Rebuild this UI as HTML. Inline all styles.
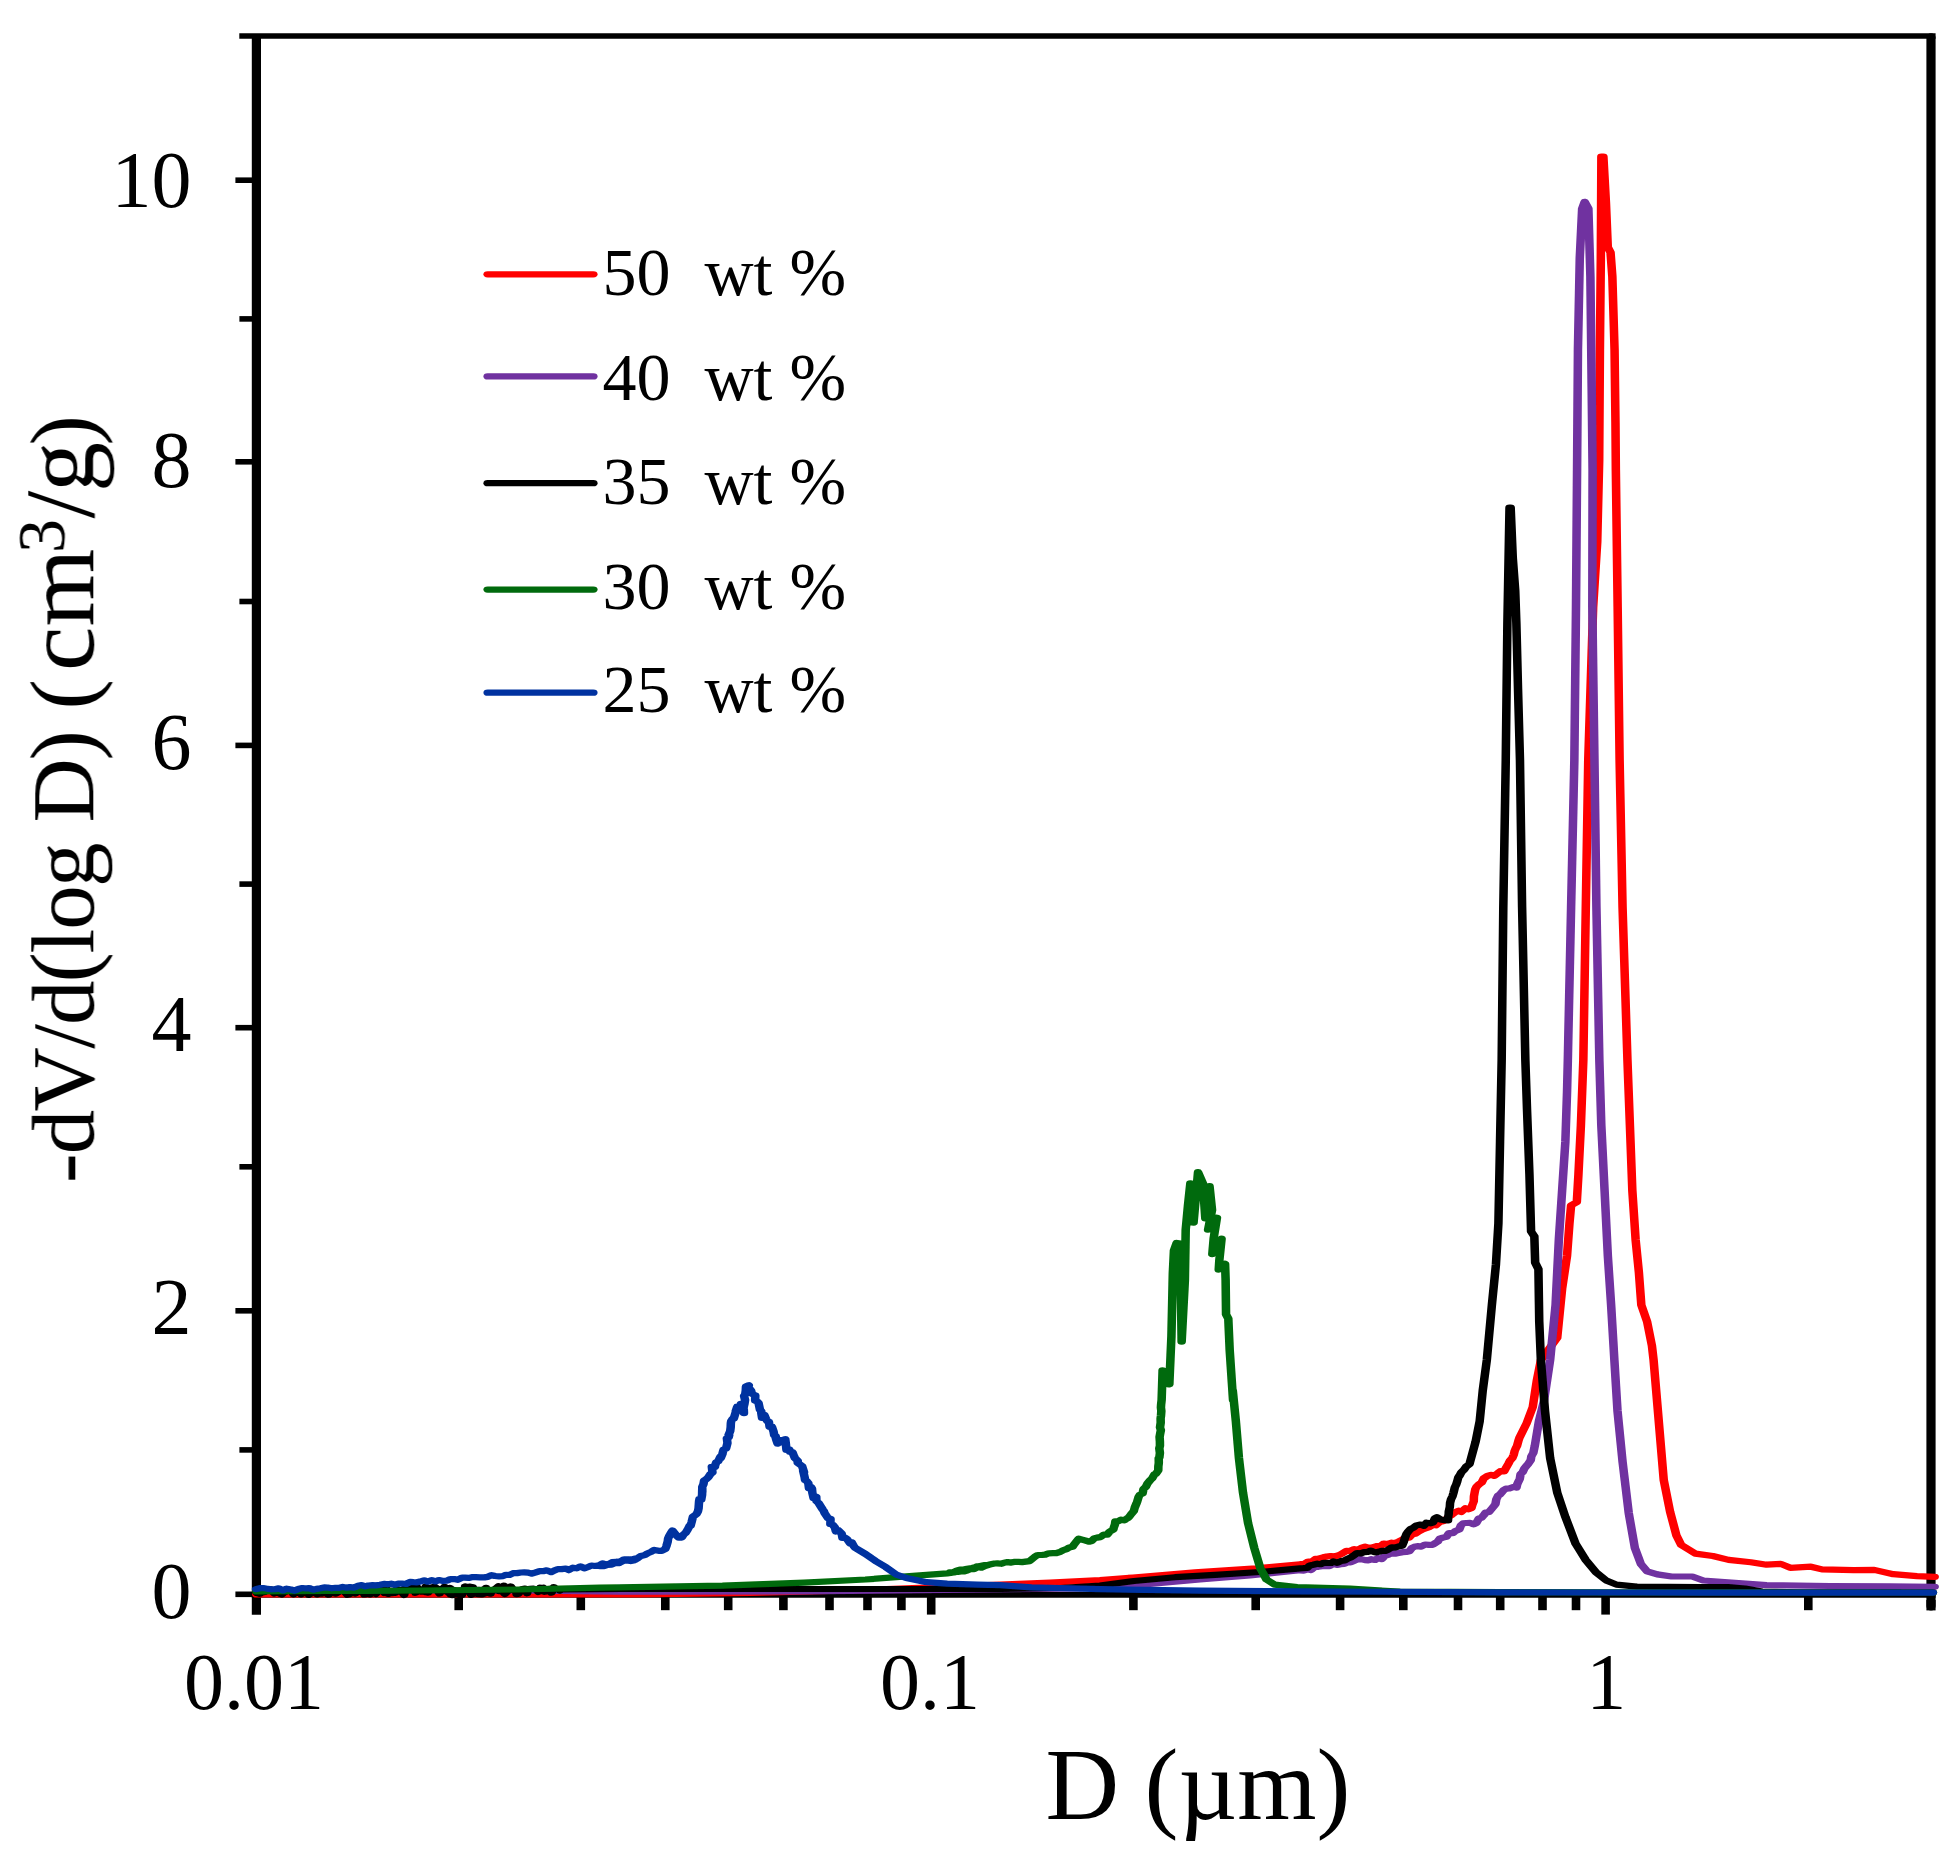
<!DOCTYPE html>
<html lang="en">
<head>
<meta charset="utf-8">
<title>Pore size distribution</title>
<style>
html,body{margin:0;padding:0;background:#fff;}
svg{display:block;}
text{font-family:"Liberation Serif","Times New Roman",serif;fill:#000;}
.ax{stroke:#000;fill:none;}
.s{fill:none;stroke-width:6.2;stroke-linecap:round;stroke-linejoin:round;}
</style>
</head>
<body>
<svg width="1959" height="1857" viewBox="0 0 1959 1857">
<rect width="1959" height="1857" fill="#fff"/>
<defs><filter id="soft" x="0" y="0" width="100%" height="100%" filterUnits="userSpaceOnUse"><feGaussianBlur stdDeviation="0.7"/></filter></defs>
<g filter="url(#soft)">
<g class="ax">
<line x1="239.3" y1="36.0" x2="1935.6" y2="36.0" stroke-width="5.6"/>
<line x1="251.8" y1="1594.9" x2="1935.6" y2="1594.9" stroke-width="5.6"/>
<line x1="256.4" y1="36.0" x2="256.4" y2="1614.8" stroke-width="9.2"/>
<line x1="1931.0" y1="37.8" x2="1931.0" y2="1606" stroke-width="9.2" stroke-linecap="round"/>
<line x1="1931.0" y1="1600" x2="1931.0" y2="1610.4" stroke-width="9.2"/>
<line x1="235.4" y1="180.2" x2="256.4" y2="180.2" stroke-width="5.6"/>
<line x1="239.4" y1="318.9" x2="256.4" y2="318.9" stroke-width="5.6"/>
<line x1="235.4" y1="461.8" x2="256.4" y2="461.8" stroke-width="5.6"/>
<line x1="239.4" y1="601.5" x2="256.4" y2="601.5" stroke-width="5.6"/>
<line x1="235.4" y1="745.4" x2="256.4" y2="745.4" stroke-width="5.6"/>
<line x1="239.4" y1="884.1" x2="256.4" y2="884.1" stroke-width="5.6"/>
<line x1="235.4" y1="1027.7" x2="256.4" y2="1027.7" stroke-width="5.6"/>
<line x1="239.4" y1="1166.8" x2="256.4" y2="1166.8" stroke-width="5.6"/>
<line x1="235.4" y1="1310.8" x2="256.4" y2="1310.8" stroke-width="5.6"/>
<line x1="239.4" y1="1449.9" x2="256.4" y2="1449.9" stroke-width="5.6"/>
<line x1="235.4" y1="1594.3" x2="256.4" y2="1594.3" stroke-width="5.6"/>
<line x1="458.7" y1="1594.9" x2="458.7" y2="1610.2" stroke-width="8.6"/>
<line x1="580.8" y1="1594.9" x2="580.8" y2="1610.2" stroke-width="8.6"/>
<line x1="665.3" y1="1594.9" x2="665.3" y2="1610.2" stroke-width="8.6"/>
<line x1="728.2" y1="1594.9" x2="728.2" y2="1610.2" stroke-width="8.6"/>
<line x1="783.4" y1="1594.9" x2="783.4" y2="1610.2" stroke-width="8.6"/>
<line x1="829.5" y1="1594.9" x2="829.5" y2="1610.2" stroke-width="8.6"/>
<line x1="867.5" y1="1594.9" x2="867.5" y2="1610.2" stroke-width="8.6"/>
<line x1="901.4" y1="1594.9" x2="901.4" y2="1610.2" stroke-width="8.6"/>
<line x1="931.2" y1="1594.9" x2="931.2" y2="1614.6" stroke-width="8.6"/>
<line x1="1133.4" y1="1594.9" x2="1133.4" y2="1610.2" stroke-width="8.6"/>
<line x1="1255.7" y1="1594.9" x2="1255.7" y2="1610.2" stroke-width="8.6"/>
<line x1="1340.1" y1="1594.9" x2="1340.1" y2="1610.2" stroke-width="8.6"/>
<line x1="1403.3" y1="1594.9" x2="1403.3" y2="1610.2" stroke-width="8.6"/>
<line x1="1458.0" y1="1594.9" x2="1458.0" y2="1610.2" stroke-width="8.6"/>
<line x1="1500.2" y1="1594.9" x2="1500.2" y2="1610.2" stroke-width="8.6"/>
<line x1="1542.5" y1="1594.9" x2="1542.5" y2="1610.2" stroke-width="8.6"/>
<line x1="1576.0" y1="1594.9" x2="1576.0" y2="1610.2" stroke-width="8.6"/>
<line x1="1605.6" y1="1594.9" x2="1605.6" y2="1614.6" stroke-width="8.6"/>
<line x1="1808.3" y1="1594.9" x2="1808.3" y2="1610.2" stroke-width="8.6"/>
</g>
<g transform="scale(1.38 1)">
<path class="s" stroke="#ff0000" d="M185.80 1594.4L463.77 1594.3L543.48 1593.0L615.94 1590.5L652.17 1588.5L688.41 1586.5L724.64 1584.5L760.87 1582.6L797.10 1580.2L821.01 1577.5L865.94 1572.4L910.14 1568.3L942.03 1564.2L944.82 1564.1L947.98 1561.5L950.58 1561.7L953.27 1558.9L955.49 1558.7L958.89 1557.3L961.45 1556.5L964.22 1556.0L967.30 1556.3L969.69 1555.5L972.17 1553.9L975.65 1550.9L978.27 1551.1L981.26 1549.0L983.68 1550.0L986.42 1547.9L989.31 1546.6L991.60 1547.9L994.72 1547.4L997.20 1546.2L1000.56 1545.9L1002.64 1543.6L1005.45 1544.1L1008.61 1542.7L1010.95 1543.1L1013.43 1541.5L1016.01 1539.7L1018.80 1537.2L1020.99 1537.7L1023.43 1534.2L1025.67 1533.7L1028.07 1531.5L1030.81 1529.5L1033.32 1528.3L1035.42 1527.2L1038.57 1524.8L1040.52 1525.3L1043.20 1522.0L1045.60 1521.3L1047.39 1519.8L1049.91 1516.6L1052.06 1514.8L1054.48 1512.1L1057.05 1510.7L1058.84 1511.9L1061.94 1508.2L1064.00 1509.4L1066.32 1508.0L1066.85 1505.2L1067.95 1501.2L1068.07 1496.4L1068.57 1492.7L1069.06 1489.3L1070.02 1486.6L1072.04 1484.0L1073.73 1482.4L1075.19 1478.4L1077.93 1475.9L1080.50 1474.8L1082.83 1475.9L1085.19 1473.4L1087.15 1471.2L1089.99 1471.3L1091.59 1467.2L1092.98 1463.9L1094.14 1460.7L1095.91 1458.0L1096.97 1454.6L1097.54 1451.2L1098.54 1447.8L1099.31 1445.8L1100.44 1440.2L1101.09 1437.6L1106.27 1423.3L1110.70 1407.0L1113.66 1380.4L1116.62 1360.0L1128.42 1337.7L1131.97 1288.7L1135.52 1256.0L1137.29 1223.3L1138.48 1205.4L1142.62 1202.1L1143.80 1174.3L1145.58 1125.3L1147.35 1060.0L1149.13 907.0L1150.91 760.0L1154.46 607.0L1157.42 541.7L1158.84 460.0L1159.35 349.7L1160.02 258.1L1160.42 156.7L1161.87 156.7L1163.73 203.2L1165.06 247.2L1167.05 252.3L1168.37 276.5L1169.97 349.7L1170.63 422.9L1170.90 470.0L1172.21 607.0L1173.63 760.1L1175.76 907.0L1179.31 1060.1L1181.09 1125.3L1182.86 1190.7L1185.23 1239.7L1187.60 1272.4L1189.37 1305.0L1193.52 1321.4L1197.07 1345.9L1198.25 1360.1L1205.61 1480.0L1210.19 1511.6L1214.78 1535.4L1218.22 1544.9L1228.54 1553.6L1241.15 1556.0L1252.62 1559.9L1268.67 1562.3L1280.14 1564.7L1290.46 1563.9L1297.34 1567.8L1312.25 1566.7L1320.28 1569.4L1343.21 1570.2L1358.12 1569.9L1371.88 1574.2L1389.08 1576.2L1401.92 1576.8"/>
<path class="s" stroke="#7030a0" d="M185.80 1590.5L376.81 1590.5L434.78 1591.5L463.77 1591.7L579.71 1591.5L652.17 1590.5L782.61 1588.5L833.33 1584.0L869.57 1579.5L905.80 1575.5L942.03 1570.3L944.87 1570.6L947.43 1569.2L950.01 1570.1L952.61 1567.0L955.27 1566.8L958.02 1566.3L960.52 1565.9L963.39 1566.1L965.98 1564.0L968.67 1564.9L971.62 1564.2L973.99 1564.0L976.82 1562.2L978.67 1562.3L981.71 1560.5L984.09 1559.3L986.42 1559.1L989.24 1560.1L991.60 1560.4L993.58 1559.2L996.48 1560.0L998.65 1558.0L1001.21 1559.1L1003.54 1555.9L1005.65 1555.0L1008.49 1552.9L1010.94 1553.7L1013.31 1553.1L1016.31 1552.2L1018.97 1551.9L1021.29 1551.3L1023.25 1547.8L1024.89 1546.8L1027.14 1546.1L1029.88 1546.6L1032.67 1544.5L1035.35 1544.9L1038.20 1544.8L1040.26 1542.9L1041.73 1541.7L1043.36 1538.6L1045.60 1537.6L1048.13 1536.8L1049.99 1533.1L1052.71 1533.2L1054.65 1530.9L1057.44 1529.5L1058.72 1525.2L1060.40 1523.3L1062.58 1523.0L1065.30 1522.9L1067.80 1524.4L1069.75 1523.2L1071.65 1518.5L1073.47 1517.9L1075.19 1515.2L1076.62 1512.5L1079.03 1511.9L1081.12 1508.5L1082.59 1506.0L1083.66 1504.0L1084.31 1499.2L1085.55 1495.8L1087.14 1494.2L1089.63 1490.2L1091.47 1488.6L1093.67 1488.4L1096.62 1486.9L1098.87 1487.6L1099.45 1484.3L1100.14 1482.1L1101.28 1479.0L1101.83 1474.3L1103.43 1472.0L1104.60 1468.6L1106.20 1465.7L1107.36 1464.0L1109.22 1460.1L1109.66 1456.4L1111.08 1452.9L1111.76 1448.6L1112.18 1445.8L1115.14 1421.3L1118.84 1400.8L1123.28 1360.0L1127.23 1305.0L1129.60 1239.7L1131.97 1190.7L1134.33 1141.7L1135.52 1092.7L1136.11 1060.0L1138.48 907.0L1140.84 760.0L1142.03 607.0L1142.86 460.0L1143.44 349.7L1144.76 258.1L1146.49 208.7L1148.34 201.8L1151.00 208.7L1152.46 276.5L1153.38 386.3L1154.05 470.0L1153.86 607.0L1155.40 760.1L1156.82 907.0L1158.95 1060.1L1160.37 1125.3L1162.74 1190.7L1165.11 1256.0L1167.48 1305.0L1169.84 1360.1L1172.11 1411.0L1175.81 1462.1L1180.25 1513.1L1184.68 1547.9L1189.12 1564.2L1193.56 1571.3L1200.96 1574.4L1211.34 1576.5L1226.25 1576.5L1234.27 1580.5L1257.21 1582.9L1280.14 1585.2L1326.01 1586.0L1401.92 1586.8"/>
<path class="s" stroke="#000000" d="M185.80 1592.0L186.23 1593.1L188.06 1591.9L188.35 1593.8L189.86 1592.0L191.54 1592.1L192.17 1590.4L192.45 1591.2L194.62 1589.4L196.14 1590.4L196.32 1589.2L198.80 1593.4L199.74 1592.7L199.43 1590.9L201.39 1589.6L203.34 1591.2L203.11 1593.8L204.21 1594.5L205.93 1592.2L206.90 1591.8L207.78 1589.1L210.12 1590.3L211.12 1590.2L212.60 1594.3L213.39 1593.5L214.24 1593.3L214.59 1591.8L216.97 1590.1L218.30 1594.2L218.56 1591.1L219.78 1591.2L221.88 1591.2L221.35 1589.4L223.71 1594.8L224.48 1591.8L225.73 1593.3L226.31 1592.5L228.05 1592.6L228.55 1589.9L229.99 1594.4L231.15 1592.4L232.23 1589.4L232.97 1593.7L235.36 1591.1L236.35 1592.9L237.88 1594.6L238.18 1594.7L240.30 1592.3L241.31 1591.7L241.59 1590.3L243.61 1589.8L243.36 1593.6L245.74 1591.7L247.01 1589.1L247.15 1590.5L248.59 1589.8L249.13 1590.8L251.73 1594.7L252.62 1591.6L252.91 1594.5L254.54 1593.1L254.83 1590.0L257.40 1593.5L258.63 1592.3L258.99 1592.2L260.88 1590.6L261.49 1590.4L263.05 1588.8L264.06 1594.4L264.06 1592.3L266.29 1593.8L267.34 1590.2L268.19 1594.4L270.21 1589.5L269.96 1589.2L270.99 1591.4L272.34 1593.9L274.39 1589.4L275.35 1590.6L276.42 1590.0L277.01 1589.8L278.53 1592.9L279.98 1588.9L281.42 1593.9L282.68 1593.4L282.50 1591.4L283.75 1593.2L285.10 1592.9L286.39 1592.8L287.65 1588.9L289.13 1591.6L289.66 1590.0L290.58 1590.6L292.92 1594.9L293.98 1586.6L294.30 1589.9L295.29 1587.0L295.50 1590.1L296.74 1590.2L297.35 1586.6L300.41 1589.8L301.01 1592.8L301.74 1586.3L304.08 1591.4L304.89 1591.7L306.91 1589.2L307.48 1589.3L308.11 1592.1L308.55 1586.6L310.15 1592.6L311.63 1590.0L312.93 1587.5L312.80 1588.9L315.72 1587.6L314.93 1586.7L315.87 1588.4L318.51 1593.6L319.00 1589.3L320.03 1588.7L322.55 1591.0L322.26 1586.8L324.88 1592.5L326.16 1588.0L326.53 1594.5L327.81 1594.8L327.79 1595.1L328.63 1589.7L329.70 1593.5L332.70 1595.1L334.18 1594.8L334.60 1595.2L336.34 1589.0L338.12 1589.3L337.10 1586.4L339.02 1587.6L341.47 1594.8L340.63 1586.7L342.66 1587.3L343.85 1593.5L344.20 1589.7L347.16 1589.9L346.76 1594.2L349.23 1594.3L350.03 1589.6L351.20 1593.6L352.21 1587.9L352.41 1589.6L354.89 1591.0L355.43 1593.6L355.35 1591.7L357.13 1591.0L359.69 1588.0L361.17 1586.4L361.24 1590.8L361.48 1591.0L363.29 1589.9L365.14 1585.7L365.35 1593.2L365.85 1593.9L367.17 1592.2L368.24 1589.9L370.09 1586.4L372.02 1590.2L373.15 1590.8L373.93 1590.7L374.37 1594.2L376.09 1590.4L375.66 1593.8L377.54 1590.0L378.78 1588.9L380.53 1588.5L381.00 1588.9L381.95 1593.3L382.47 1589.5L383.86 1588.8L386.58 1588.7L386.93 1589.3L388.33 1589.5L388.34 1589.4L389.97 1591.9L391.43 1587.7L392.80 1588.4L393.62 1587.8L394.57 1591.8L395.93 1591.5L397.56 1590.3L398.48 1589.0L399.58 1591.6L399.67 1592.7L401.36 1587.1L402.07 1588.5L403.05 1588.9L405.07 1589.6L405.62 1590.6L406.52 1589.5L463.77 1588.8L579.71 1589.0L724.64 1589.0L768.12 1588.0L797.10 1585.5L821.74 1581.0L851.45 1577.2L880.43 1574.8L913.04 1572.0L942.03 1568.3L944.27 1568.2L947.13 1568.0L949.14 1565.4L951.57 1564.7L954.58 1563.7L956.83 1564.2L959.32 1562.8L961.57 1562.9L964.54 1563.0L966.24 1561.4L968.83 1562.8L971.62 1561.1L974.28 1560.5L976.66 1558.6L979.14 1557.2L980.86 1555.7L983.46 1553.0L985.98 1553.5L988.59 1552.1L990.94 1551.9L993.43 1550.6L996.44 1552.5L999.13 1551.8L1001.21 1550.9L1003.73 1550.9L1005.81 1549.8L1008.56 1547.3L1010.80 1547.6L1013.31 1546.5L1016.01 1545.8L1017.22 1541.9L1017.89 1538.6L1019.09 1534.2L1020.45 1531.5L1022.14 1529.0L1024.00 1527.9L1026.37 1525.4L1029.38 1524.5L1031.75 1525.8L1033.71 1522.7L1036.72 1523.3L1038.49 1522.4L1039.81 1518.2L1041.16 1517.2L1043.80 1519.4L1046.95 1520.2L1049.30 1520.3L1049.32 1517.9L1049.78 1514.0L1049.85 1511.4L1050.58 1507.1L1050.78 1502.9L1051.40 1499.6L1052.63 1495.9L1053.31 1492.6L1054.18 1487.6L1055.22 1484.6L1055.83 1482.1L1056.71 1477.5L1057.59 1475.8L1058.92 1472.3L1060.94 1469.7L1062.44 1466.7L1064.84 1464.1L1069.28 1441.7L1072.23 1421.3L1074.45 1390.6L1077.41 1360.0L1081.07 1305.0L1084.03 1264.2L1085.80 1223.3L1086.99 1141.7L1088.17 1060.0L1089.35 907.0L1091.13 760.0L1092.31 623.3L1093.85 507.7L1094.68 507.7L1096.22 558.0L1097.99 590.7L1098.82 623.3L1100.01 688.7L1101.43 760.1L1102.97 907.0L1105.33 1060.1L1106.52 1109.0L1108.29 1174.3L1109.48 1231.5L1111.84 1236.4L1112.44 1262.6L1114.80 1269.1L1115.39 1321.4L1116.58 1360.1L1119.58 1411.0L1123.28 1458.0L1128.46 1492.7L1134.38 1517.2L1141.78 1543.8L1149.17 1560.1L1156.57 1572.4L1163.97 1580.5L1171.37 1584.6L1186.16 1586.6L1231.88 1587.1L1252.17 1587.2L1264.49 1588.5L1276.81 1591.5L1304.35 1592.3L1400.65 1592.5"/>
<path class="s" stroke="#066a0a" d="M185.80 1591.5L239.13 1591.0L304.35 1590.5L376.81 1589.5L434.78 1587.7L523.56 1585.6L582.74 1582.6L627.13 1579.5L656.72 1576.4L686.32 1573.4L688.76 1573.0L691.44 1572.3L693.72 1572.0L696.03 1571.4L698.71 1571.3L701.11 1570.3L703.39 1569.1L705.85 1569.1L708.60 1567.0L711.20 1567.7L713.51 1566.2L715.91 1565.2L713.00 1565.1L710.42 1565.9L707.51 1566.9L704.69 1568.0L702.13 1569.3L699.42 1569.7L696.66 1570.5L693.89 1570.6L691.39 1572.4L688.41 1572.4L691.03 1572.0L693.25 1570.6L695.71 1569.6L698.39 1569.5L700.90 1568.8L703.20 1568.3L705.88 1568.1L707.90 1566.4L710.79 1566.2L713.29 1565.4L715.33 1565.1L718.00 1564.2L720.59 1563.5L722.74 1563.4L725.61 1563.8L727.68 1562.7L730.14 1562.1L732.79 1562.6L735.60 1561.8L738.15 1561.9L740.64 1562.1L743.28 1561.6L746.11 1561.1L747.91 1559.0L749.92 1556.7L752.03 1555.0L754.96 1555.0L757.36 1554.6L760.03 1553.3L763.04 1553.2L765.41 1553.2L768.30 1551.9L770.39 1550.3L772.87 1549.1L774.87 1547.4L777.18 1546.8L778.47 1544.2L780.02 1541.5L781.62 1538.7L784.03 1539.6L786.77 1540.7L789.02 1541.7L791.03 1541.0L792.82 1538.4L794.94 1537.6L797.38 1537.1L800.02 1534.5L802.34 1534.6L804.10 1531.6L806.77 1529.5L807.06 1527.7L807.94 1524.4L808.25 1521.3L810.53 1521.1L812.36 1519.6L814.60 1520.3L817.13 1518.2L818.20 1516.9L819.70 1514.1L821.57 1511.1L822.31 1507.5L823.66 1503.0L823.83 1502.6L825.13 1496.7L826.01 1494.8L827.94 1493.5L828.61 1489.1L830.45 1486.6L831.59 1483.3L833.52 1480.1L834.89 1478.4L836.55 1474.3L837.54 1474.0L839.33 1470.3L839.38 1466.4L839.71 1463.0L839.66 1458.0L840.13 1457.5L840.51 1452.9L840.08 1448.4L840.54 1445.8L840.51 1441.7L840.28 1437.0L840.64 1434.1L841.19 1430.2L840.59 1427.4L841.09 1422.6L841.03 1418.5L841.31 1415.7L841.55 1411.0L841.25 1407.6L841.39 1404.4L841.76 1400.1L842.47 1370.4L847.34 1384.4L848.86 1336.1L849.88 1273.1L850.69 1250.6L852.72 1242.9L855.15 1243.6L856.27 1341.7L858.60 1280.1L859.21 1229.6L860.84 1205.8L862.56 1183.4L864.90 1222.6L868.14 1172.2L871.70 1183.4L873.42 1218.4L876.47 1186.2L878.29 1210.0L875.45 1229.6L881.85 1217.7L879.51 1238.0L878.50 1254.1L885.19 1238.7L883.57 1260.4L883.16 1269.6L887.73 1263.9L888.14 1280.1L888.44 1314.4L890.07 1318.6L891.08 1350.1L893.52 1400.1L893.33 1390.6L895.55 1421.3L897.77 1458.0L900.73 1492.7L904.43 1523.3L908.87 1547.9L913.31 1568.3L917.74 1579.5L923.66 1584.6L939.94 1587.1L978.26 1588.7L1014.49 1591.6L1086.96 1592.2L1231.88 1592.4L1400.65 1592.5"/>
<path class="s" stroke="#0033a0" d="M185.60 1589.1L188.26 1588.2L191.30 1588.1L194.01 1588.9L196.44 1589.3L199.22 1589.2L202.04 1588.3L205.11 1590.3L207.67 1588.7L210.75 1589.5L213.54 1590.6L216.19 1589.0L219.18 1588.0L221.78 1588.5L223.93 1588.0L226.75 1589.7L229.34 1588.9L232.38 1588.3L235.00 1587.4L237.32 1587.6L240.34 1588.3L243.17 1587.8L245.58 1587.9L248.38 1586.9L251.33 1587.7L253.60 1587.1L256.50 1587.6L259.35 1585.8L262.23 1585.1L264.49 1586.4L266.98 1585.5L269.94 1585.2L272.28 1585.4L275.52 1584.8L278.29 1583.9L280.84 1584.3L283.45 1583.7L286.33 1584.7L288.75 1583.7L291.13 1583.5L294.26 1584.0L297.08 1581.9L299.53 1582.2L302.13 1582.3L304.55 1581.5L307.35 1580.3L309.96 1581.7L312.70 1580.1L315.59 1581.4L318.04 1580.1L321.09 1580.9L323.98 1580.6L326.26 1579.1L329.12 1579.1L331.70 1579.8L334.85 1577.6L336.95 1577.6L339.68 1577.9L342.64 1577.1L344.89 1577.2L347.85 1577.3L350.98 1577.4L353.34 1576.9L356.15 1575.1L358.71 1576.0L361.70 1576.4L364.37 1576.1L366.70 1574.8L369.17 1575.0L371.83 1573.2L374.63 1573.1L377.42 1572.5L379.86 1572.4L382.62 1572.7L385.26 1573.7L388.30 1572.4L391.08 1571.1L393.50 1571.2L396.27 1570.3L399.33 1572.2L401.73 1570.5L404.13 1569.1L407.02 1569.1L410.07 1568.5L412.16 1570.2L415.23 1567.7L417.90 1568.3L420.62 1566.4L423.30 1568.3L426.24 1567.0L428.48 1565.5L431.10 1566.0L434.06 1565.4L436.60 1563.4L439.65 1564.8L442.37 1563.7L445.04 1563.0L447.49 1561.7L449.75 1561.2L452.31 1559.3L454.53 1559.3L457.17 1559.8L460.16 1558.5L462.28 1558.1L459.86 1560.1L457.13 1559.3L453.82 1559.8L451.06 1560.6L448.63 1563.2L446.04 1562.9L443.15 1564.6L439.97 1565.0L437.84 1566.1L434.78 1566.2L437.19 1565.1L438.98 1564.9L441.31 1563.9L443.66 1562.1L446.68 1561.7L448.91 1562.9L451.82 1560.7L454.03 1560.4L456.98 1561.1L459.75 1560.2L461.64 1558.6L464.37 1556.0L467.20 1555.1L469.19 1553.4L471.77 1551.9L474.08 1549.9L477.31 1550.8L479.56 1550.8L482.13 1548.9L482.82 1546.5L483.86 1541.5L484.16 1538.4L485.09 1535.6L486.00 1533.3L487.31 1530.5L488.61 1532.8L490.27 1535.6L491.84 1537.7L493.97 1537.6L495.34 1534.5L496.99 1532.6L498.35 1529.5L499.89 1525.4L500.40 1525.8L501.21 1521.9L502.12 1516.7L504.70 1514.1L505.06 1513.2L505.80 1511.1L506.22 1508.3L506.25 1507.6L506.57 1501.3L506.94 1498.8L508.11 1499.9L508.76 1494.8L508.85 1489.6L508.93 1492.0L508.89 1486.9L509.73 1484.3L510.24 1480.5L511.44 1479.6L513.20 1477.3L514.68 1474.3L516.27 1472.4L515.83 1466.8L518.12 1466.9L517.70 1467.2L519.12 1462.1L520.37 1461.4L522.00 1456.7L522.20 1458.2L523.56 1453.9L523.66 1452.8L524.34 1449.6L526.13 1448.5L527.12 1443.1L526.73 1438.2L528.00 1437.6L528.42 1435.1L527.99 1434.9L529.12 1431.1L529.48 1427.4L529.61 1423.1L529.86 1421.0L530.92 1418.8L531.73 1418.5L533.24 1411.8L533.18 1411.0L534.23 1406.7L535.93 1409.1L536.88 1403.9L536.91 1407.8L537.64 1405.6L539.00 1409.8L539.09 1413.1L538.69 1409.8L538.96 1406.7L539.49 1403.7L539.91 1400.0L539.21 1395.9L539.40 1395.5L540.00 1394.3L540.42 1390.7L540.57 1386.5L542.64 1385.3L542.20 1387.1L544.27 1390.6L544.82 1393.6L546.18 1394.8L547.30 1395.3L547.23 1400.8L548.70 1401.5L549.66 1402.9L550.71 1409.7L551.64 1411.1L551.67 1413.1L552.22 1417.9L553.79 1414.7L555.18 1419.2L556.11 1421.3L557.17 1421.7L557.67 1426.8L559.36 1426.7L560.55 1431.5L561.04 1435.3L562.11 1436.2L562.14 1438.0L562.44 1439.5L563.51 1443.7L564.89 1440.0L566.86 1442.2L567.95 1439.6L569.03 1439.2L569.49 1444.1L569.90 1449.8L571.94 1449.4L572.39 1451.9L574.22 1452.1L575.35 1456.0L576.06 1458.2L578.14 1460.9L578.04 1462.8L580.79 1465.6L581.26 1466.2L582.60 1471.9L581.97 1470.7L583.12 1477.6L583.40 1480.3L584.22 1480.5L585.72 1483.0L586.22 1488.1L587.38 1486.6L588.38 1488.4L588.66 1492.7L589.55 1498.0L591.48 1496.7L591.63 1501.1L593.10 1502.9L594.81 1506.6L596.08 1509.4L596.99 1511.2L597.54 1513.1L598.53 1515.1L599.99 1518.1L601.83 1518.9L601.72 1524.1L603.31 1524.6L604.94 1527.4L605.75 1531.5L607.50 1530.3L609.91 1533.6L610.47 1537.9L612.34 1537.6L613.66 1538.9L616.10 1543.5L617.20 1542.3L618.80 1546.4L619.73 1547.9L627.13 1554.0L634.53 1561.1L641.93 1567.2L649.33 1574.4L656.72 1578.1L671.52 1582.2L686.32 1583.6L708.51 1584.6L724.64 1585.2L747.46 1587.4L797.10 1589.2L869.57 1590.6L942.03 1591.4L1086.96 1592.3L1231.88 1592.6L1400.65 1592.6"/>
</g>
<text x="191.6" y="206.8" font-size="80" text-anchor="end">10</text>
<text x="191.6" y="486.5" font-size="80" text-anchor="end">8</text>
<text x="191.6" y="769.0" font-size="80" text-anchor="end">6</text>
<text x="191.6" y="1050.9" font-size="80" text-anchor="end">4</text>
<text x="191.6" y="1333.8" font-size="80" text-anchor="end">2</text>
<text x="191.6" y="1617.5" font-size="80" text-anchor="end">0</text>
<text x="253.9" y="1709.2" font-size="80" text-anchor="middle">0.01</text>
<text x="929.9" y="1709.2" font-size="80" text-anchor="middle">0.1</text>
<text x="1606.2" y="1709.2" font-size="80" text-anchor="middle">1</text>
<text x="1045.4" y="1819.3" font-size="101.5" textLength="305" lengthAdjust="spacingAndGlyphs">D (µm)</text>
<text transform="translate(93.3 0) rotate(-90)" xml:space="preserve"><tspan x="-1182.9 -1154.2 -1111.6 -1048.8 -1025.0" y="0" font-size="89">-dV/d</tspan><tspan x="-982.6" y="0" font-size="91">(</tspan><tspan x="-953.4 -929.7 -887.0 -845.0 -822.4" y="0" font-size="89">log D</tspan><tspan x="-760.4" y="0" font-size="91">)</tspan><tspan x="-730.0 -709.6" y="0" font-size="91"> (</tspan><tspan x="-671.0 -626.5" y="0" font-size="100">cm</tspan><tspan x="-553.0" y="-28.9" font-size="68">3</tspan><tspan x="-518.6 -491.9" y="0" font-size="100">/g</tspan><tspan x="-445.4" y="0" font-size="91">)</tspan></text>
<g transform="scale(1.38 1)">
<line class="s" stroke="#ff0000" x1="353.41" y1="274.3" x2="429.93" y2="274.3"/>
<line class="s" stroke="#7030a0" x1="353.41" y1="376.4" x2="429.93" y2="376.4"/>
<line class="s" stroke="#000000" x1="353.41" y1="483.2" x2="429.93" y2="483.2"/>
<line class="s" stroke="#066a0a" x1="353.41" y1="589.6" x2="429.93" y2="589.6"/>
<line class="s" stroke="#0033a0" x1="353.41" y1="692.7" x2="429.93" y2="692.7"/>
</g>
<text x="602.5" y="294.6" font-size="68" xml:space="preserve">50  wt %</text>
<text x="602.5" y="400.4" font-size="68" xml:space="preserve">40  wt %</text>
<text x="602.5" y="504.0" font-size="68" xml:space="preserve">35  wt %</text>
<text x="602.5" y="609.4" font-size="68" xml:space="preserve">30  wt %</text>
<text x="602.5" y="712.4" font-size="68" xml:space="preserve">25  wt %</text>
</g>
</svg>
</body>
</html>
